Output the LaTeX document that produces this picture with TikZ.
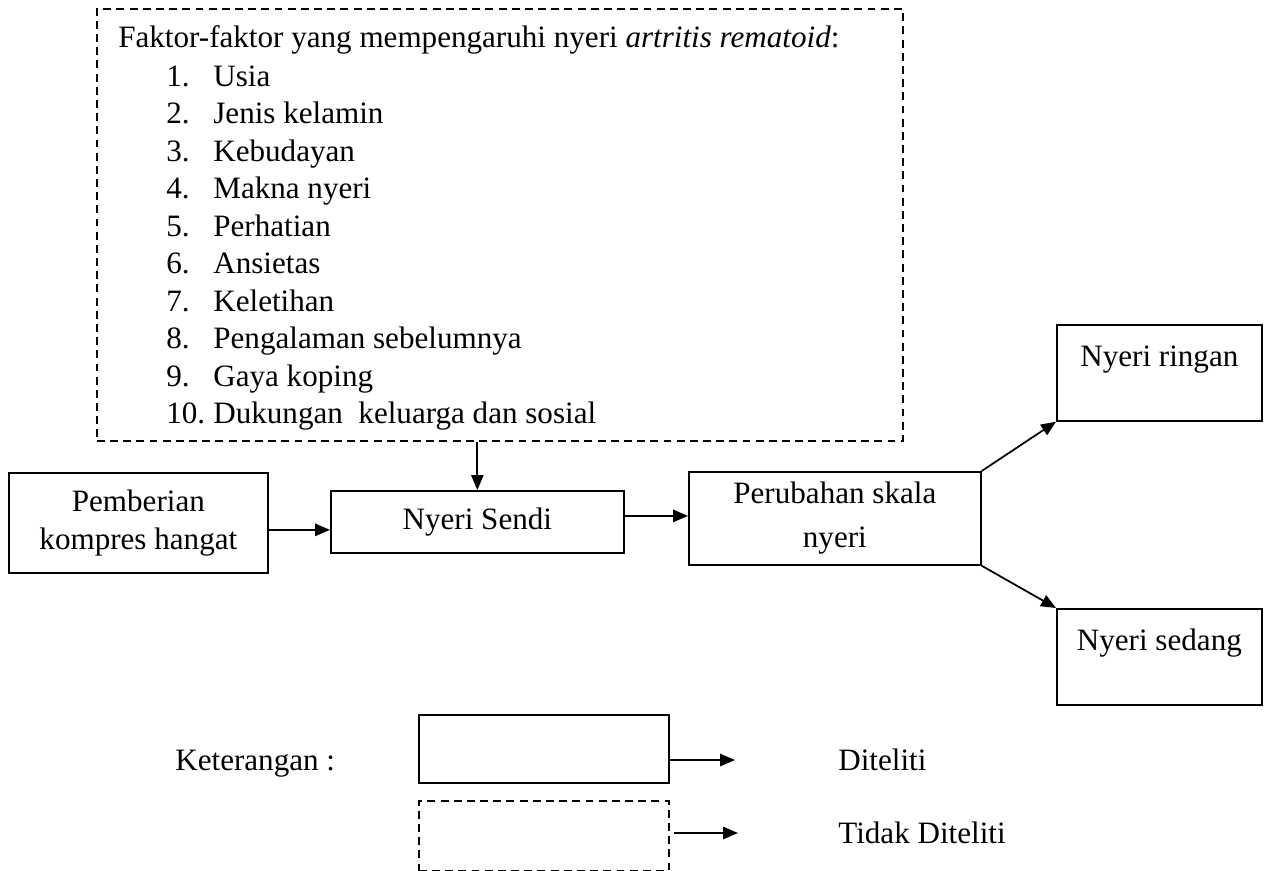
\documentclass[tikz,border=0pt]{standalone}
\usepackage{fontspec}
\setmainfont{Liberation Serif}
\usetikzlibrary{positioning,arrows.meta}

\begin{document}
\begin{tikzpicture}[x=0.02cm, y=-0.02cm, >={Triangle[length=8.5pt,width=7pt]},
    font=\fontsize{17.7}{21.3}\selectfont,
    kotak/.style={draw, line width=1pt, align=center, inner sep=3pt},
    putus/.style={draw, line width=1pt, dash pattern=on 4.5pt off 3pt},
    teks/.style={anchor=base west, inner sep=0pt}]
    \useasboundingbox (0,0) rectangle (1271,870);

    % Faktor (tidak diteliti)
    \node[putus, anchor=north west, minimum width=16.12cm, minimum height=8.64cm] (faktor) at (96,8) {};
    \node[teks] (judul) at (118,47) {Faktor-faktor yang mempengaruhi nyeri \textit{artritis rematoid}:};
    \foreach \i/\isi in {1/Usia, 2/Jenis kelamin, 3/Kebudayan, 4/Makna nyeri, 5/Perhatian,
        6/Ansietas, 7/Keletihan, 8/Pengalaman sebelumnya, 9/Gaya koping, 10/Dukungan\ \ keluarga dan sosial} {
        \node[teks] (no\i) at (166,{86+37.5*(\i-1)}) {\i.};
        \node[teks] (item\i) at (213,{86+37.5*(\i-1)}) {\isi};
    }

    % Alur utama
    \node[kotak, anchor=north west, minimum width=5.18cm, minimum height=2cm] (pemberian) at (8,472) {Pemberian\\kompres hangat};
    \node[kotak, anchor=north west, minimum width=5.86cm, minimum height=1.24cm] (sendi) at (330,490) {Nyeri Sendi};
    \node[kotak, anchor=north west, minimum width=5.84cm, minimum height=1.86cm] (skala) at (688,471) {Perubahan skala\\[3.7pt]nyeri};
    \node[kotak, anchor=north west, minimum width=4.1cm, text height=19.8pt, text depth=26.8pt, inner ysep=4pt] (ringan) at (1056,324) {Nyeri ringan};
    \node[kotak, anchor=north west, minimum width=4.1cm, text height=19.8pt, text depth=26.8pt, inner ysep=4pt] (sedang) at (1056,608) {Nyeri sedang};

    \draw[->, line width=1pt] (faktor.south -| sendi.north) -- (sendi.north);
    \draw[->, line width=1pt] ([yshift=-0.14cm]pemberian.east) -- ([yshift=-0.14cm]pemberian.east -| sendi.west);
    \draw[->, line width=1pt] ([yshift=0.12cm]sendi.east) -- ([yshift=0.12cm]sendi.east -| skala.west);
    \draw[->, line width=1pt] (skala.north east) -- (ringan.south west);
    \draw[->, line width=1pt] (skala.south east) -- (sedang.north west);

    % Keterangan
    \node[teks] (ket) at (175,770) {Keterangan :};
    \node[kotak, anchor=north west, minimum width=5cm, minimum height=1.36cm] (legdit) at (418,714) {};
    \node[putus, anchor=north west, minimum width=5cm, minimum height=1.4cm] (legtdk) at (418,800) {};
    \node[teks] (diteliti) at (838,770) {Diteliti};
    \node[teks] (tidak) at (838,843) {Tidak Diteliti};
    \coordinate (ujung1) at (735,760);
    \coordinate (ujung2) at (738,833);
    \draw[->, line width=1pt] (legdit.east |- ujung1) -- (ujung1);
    \draw[->, line width=1pt] ([xshift=0.08cm]legtdk.east |- ujung2) -- (ujung2);
\end{tikzpicture}
\end{document}
